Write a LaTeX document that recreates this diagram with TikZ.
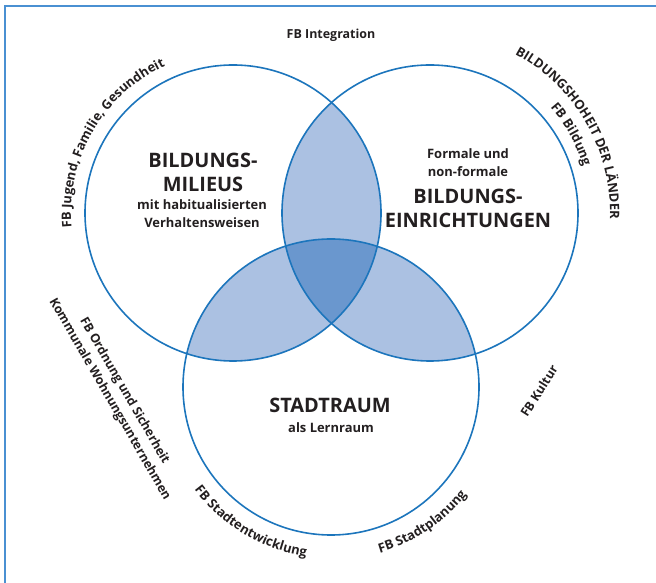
\documentclass[tikz,border=0pt]{standalone}
\usepackage{fontspec}
\setmainfont{Open Sans}
\usepackage{tikz}
\usetikzlibrary{positioning,decorations.text}
\definecolor{ringblue}{HTML}{1C75BC}
\definecolor{frameblue}{HTML}{4A90D2}
\definecolor{lapblue}{HTML}{ABC1E2}
\definecolor{coreblue}{HTML}{6A97CE}
\definecolor{ink}{HTML}{231F20}
\newcommand{\lblfont}{\fontsize{12.5}{17}\selectfont\bfseries}
\newcommand{\arcfont}{\fontsize{13}{17}\selectfont\bfseries}

\begin{document}
\begin{tikzpicture}[
  x=1bp,y=1bp,
  ring/.style={draw=ringblue,line width=1.6bp},
  title/.style={font=\fontsize{20}{25}\selectfont\bfseries,text=ink,align=center,inner sep=0pt,anchor=base},
  subtitle/.style={font=\fontsize{13}{19}\selectfont\bfseries,text=ink,align=center,inner sep=0pt,anchor=base},
  fblabel/.style={font=\lblfont,text=ink,align=center,inner sep=0pt},
  % labels bent along an arc
  arclabel/.style={decorate,decoration={text along path,text align=center,text color=ink,text={|\arcfont|#1}}}
]
\useasboundingbox (0,0) rectangle (656,583);

% --- frame (top and left edge) ---
\draw[frameblue,line width=1.2bp] (5,0) -- (5,577) -- (656,577);

% --- circle centres ---
\coordinate (cA) at (233,370);
\coordinate (cB) at (430,370);
\coordinate (cC) at (331,196);
\def\ringr{148}

% --- overlaps ---
\begin{scope}
  \clip (cA) circle[radius=\ringr];
  \fill[lapblue] (cB) circle[radius=\ringr];
  \fill[lapblue] (cC) circle[radius=\ringr];
\end{scope}
\begin{scope}
  \clip (cB) circle[radius=\ringr];
  \fill[lapblue] (cC) circle[radius=\ringr];
\end{scope}
\begin{scope}
  \clip (cA) circle[radius=\ringr];
  \clip (cB) circle[radius=\ringr];
  \fill[coreblue] (cC) circle[radius=\ringr];
\end{scope}

% --- rings ---
\foreach \c in {cA,cB,cC}
  \draw[ring] (\c) circle[radius=\ringr];

% --- texts in the circles (base = last line) ---
\node[title] (milieu) at (203,391) {BILDUNGS-\\MILIEUS};
\node[subtitle] (milieusub) at (202,355) {mit habitualisierten\\Verhaltensweisen};
\node[subtitle] (einrsub) at (468,406) {Formale und\\non-formale};
\node[title] (einr) at (468,355) {BILDUNGS-\\EINRICHTUNGEN};
\node[title] (stadt) at (330,170) {STADTRAUM};
\node[subtitle] (stadtsub) at (331,150) {als Lernraum};

% --- straight labels ---
\node[fblabel,anchor=base] (integration) at (331,544) {FB Integration};
\node[fblabel,rotate=-60] (ordnung) at (117,188) {FB Ordnung und Sicherheit\\Kommunale Wohnungsunternehmen};
\node[fblabel,rotate=57.6] (kultur) at (539,192) {FB Kultur};

% --- bent labels ---
\path[arclabel={FB Jugend, Familie, Gesundheit}] ([shift={(190:162)}]cA) arc[start angle=190,end angle=110,radius=162];
\path[arclabel={BILDUNGSHOHEIT DER LÄNDER}] ([shift={(70:180)}]cB) arc[start angle=70,end angle=-10,radius=180];
\path[arclabel={FB Bildung}] ([shift={(53:160)}]cB) arc[start angle=53,end angle=5,radius=160];
\path[arclabel={FB Stadtentwicklung}] ([shift={(210:171)}]cC) arc[start angle=210,end angle=268.6,radius=171];
\path[arclabel={FB Stadtplanung}] ([shift={(-90:173)}]cC) arc[start angle=-90,end angle=-22,radius=173];
\end{tikzpicture}
\end{document}
